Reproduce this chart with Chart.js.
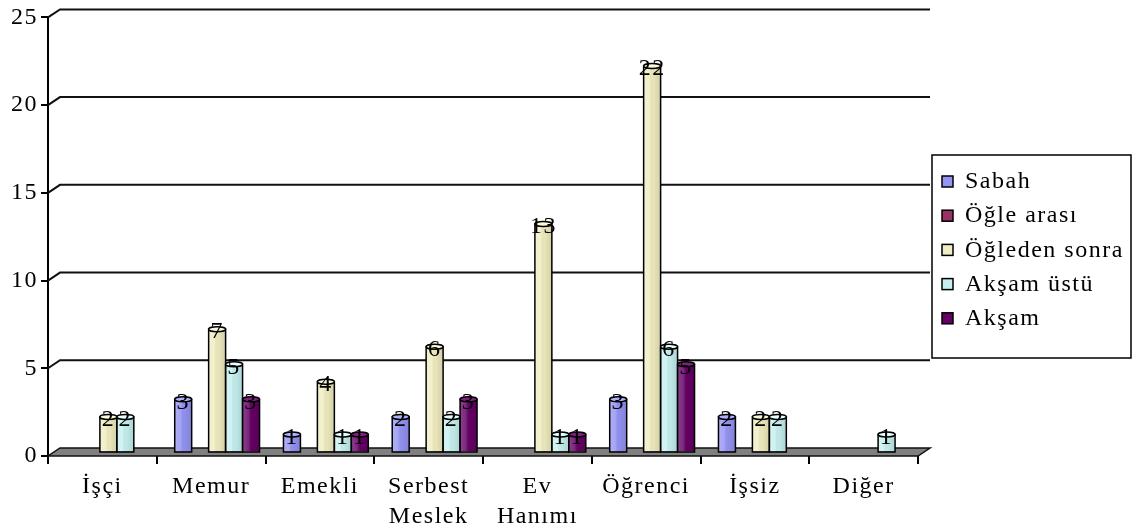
<!DOCTYPE html>
<html>
<head>
<meta charset="utf-8">
<script src="https://cdn.jsdelivr.net/npm/chart.js@4.4.0/dist/chart.umd.min.js"></script>
<style>
  html, body { margin: 0; padding: 0; background: #fff; }
  #wrap { width: 1138px; height: 532px; }
</style>
</head>
<body>
<div id="wrap"><canvas id="mycanvas" width="1138" height="532"></canvas></div>
<script>
// categories and series
var categories = ["İşçi", "Memur", "Emekli", ["Serbest", "Meslek"], ["Ev", "Hanımı"], "Öğrenci", "İşsiz", "Diğer"];
var sabah        = [0, 3, 1, 2, 0, 3, 2, 0];
var ogleArasi    = [0, 0, 0, 0, 0, 0, 0, 0];
var ogledenSonra = [2, 7, 4, 6, 13, 22, 2, 0];
var aksamUstu    = [2, 5, 1, 2, 1, 6, 2, 1];
var aksam        = [0, 3, 1, 3, 1, 5, 0, 0];
var yTicks = [0, 5, 10, 15, 20, 25];

var FONT = "'Liberation Serif', 'Times New Roman', serif";
var DX = 12, DY = 8;   // 3d depth of the back wall

// wider text like the original export
var spacingPlugin = {
  id: 'spacing',
  beforeDraw: function(chart) { chart.ctx.letterSpacing = '1.5px'; }
};

// gray floor, back gridlines, and a shifted drawing of the bars
var depthPlugin = {
  id: 'depth',
  beforeDatasetsDraw: function(chart) {
    var ctx = chart.ctx, a = chart.chartArea, ys = chart.scales.y;
    ctx.save();
    ctx.strokeStyle = '#111';
    ctx.lineWidth = 2;
    yTicks.forEach(function(v) {
      if (v === 0) return;
      var y = ys.getPixelForValue(v);
      ctx.beginPath();
      ctx.moveTo(a.left, y);
      ctx.lineTo(a.left + DX, y - DY);
      ctx.lineTo(a.right + DX, y - DY);
      ctx.stroke();
    });
    var b = ys.getPixelForValue(0);
    ctx.beginPath();
    ctx.moveTo(a.left, b);
    ctx.lineTo(a.right, b);
    ctx.lineTo(a.right + DX, b - DY);
    ctx.lineTo(a.left + DX, b - DY);
    ctx.closePath();
    ctx.fillStyle = '#808080';
    ctx.fill();
    ctx.lineWidth = 1.5;
    ctx.stroke();
    ctx.restore();
    ctx.save();
    ctx.translate(DX / 2, -DY / 2);
  },
  afterDatasetsDraw: function(chart) {
    var ctx = chart.ctx;
    var base = chart.scales.y.getPixelForValue(0);
    chart.data.datasets.forEach(function(ds, di) {
      var meta = chart.getDatasetMeta(di);
      meta.data.forEach(function(bar, i) {
        var v = ds.data[i];
        if (!v) return;
        var w = bar.width, x0 = bar.x - w / 2;
        // cylinder shading
        var g = ctx.createLinearGradient(x0, 0, x0 + w, 0);
        g.addColorStop(0, 'rgba(255,255,255,0.25)');
        g.addColorStop(0.35, 'rgba(255,255,255,0.15)');
        g.addColorStop(0.55, 'rgba(0,0,0,0.03)');
        g.addColorStop(1, 'rgba(0,0,0,0.12)');
        ctx.fillStyle = g;
        ctx.fillRect(x0, bar.y, w, base - bar.y);
        ctx.lineWidth = 1.5;
        ctx.strokeStyle = '#000';
        ctx.strokeRect(x0, bar.y, w, base - bar.y);
        // top cap
        ctx.beginPath();
        ctx.ellipse(bar.x, bar.y, w / 2, 2.5, 0, 0, Math.PI * 2);
        ctx.fillStyle = ds.capColor;
        ctx.fill();
        ctx.stroke();
        // value label
        ctx.fillStyle = '#000';
        ctx.font = '24px ' + FONT;
        ctx.textAlign = 'center';
        ctx.textBaseline = 'middle';
        ctx.fillText(String(v), bar.x, bar.y + 3);
      });
    });
    ctx.restore();
  }
};

// boxed legend on the right
var legendPlugin = {
  id: 'boxLegend',
  afterDraw: function(chart) {
    var ctx = chart.ctx, a = chart.chartArea;
    var left = a.right + 14, top = 155, w = 199, h = 203;
    ctx.save();
    ctx.fillStyle = '#fff';
    ctx.fillRect(left, top, w, h);
    ctx.strokeStyle = '#000';
    ctx.lineWidth = 1.5;
    ctx.strokeRect(left, top, w, h);
    ctx.font = '24px ' + FONT;
    ctx.textBaseline = 'middle';
    ctx.textAlign = 'left';
    chart.data.datasets.forEach(function(ds, i) {
      var y = top + 26 + i * 34.2;
      ctx.fillStyle = ds.backgroundColor;
      ctx.fillRect(left + 10, y - 5, 11, 11);
      ctx.lineWidth = 1.5;
      ctx.strokeRect(left + 10, y - 5, 11, 11);
      ctx.fillStyle = '#000';
      ctx.fillText(ds.label, left + 33, y + 1);
    });
    ctx.restore();
  }
};

function makeSet(label, data, color, cap) {
  return {
    label: label,
    data: data,
    backgroundColor: color,
    capColor: cap,
    borderColor: '#000',
    borderWidth: 0,
    categoryPercentage: 0.78,
    barPercentage: 1.0
  };
}

var ctx = document.getElementById('mycanvas');
var chart = new Chart(ctx, {
  type: 'bar',
  data: {
    labels: categories,
    datasets: [
      makeSet('Sabah', sabah, '#9494F4', '#b0b0ff'),
      makeSet('Öğle arası', ogleArasi, '#993366', '#b35580'),
      makeSet('Öğleden sonra', ogledenSonra, '#F0EDC0', '#fbfadc'),
      makeSet('Akşam üstü', aksamUstu, '#C6F0F0', '#e6ffff'),
      makeSet('Akşam', aksam, '#660066', '#802080')
    ]
  },
  options: {
    responsive: false,
    animation: { duration: 0 },
    layout: { padding: { top: 16, right: 220, left: 0, bottom: 0 } },
    plugins: {
      legend: { display: false },
      tooltip: { enabled: false }
    },
    scales: {
      x: {
        offset: true,
        grid: { display: true, drawOnChartArea: false, offset: true, color: '#000', lineWidth: 2, tickLength: 8 },
        border: { display: false },
        ticks: { color: '#000', font: { family: FONT, size: 24, lineHeight: 1.25 }, padding: 8, maxRotation: 0, autoSkip: false },
        afterFit: function(s) { s.height = 76; }
      },
      y: {
        min: 0,
        max: 25,
        ticks: { stepSize: 5, color: '#000', font: { family: FONT, size: 24 }, padding: 3 },
        grid: { display: true, drawOnChartArea: false, color: '#000', lineWidth: 2, tickLength: 7 },
        border: { display: true, color: '#000', width: 2 },
        afterFit: function(s) { s.width = 48; }
      }
    }
  },
  plugins: [spacingPlugin, depthPlugin, legendPlugin]
});
</script>
</body>
</html>
